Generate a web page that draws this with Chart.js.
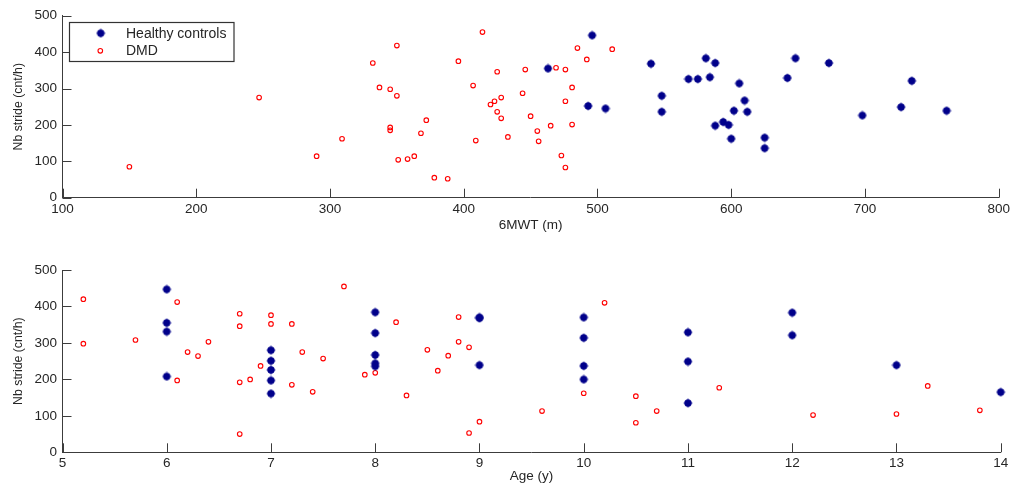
<!DOCTYPE html>
<html><head><meta charset="utf-8">
<script src="https://cdn.jsdelivr.net/npm/chart.js@4"></script>
<style>
html,body{margin:0;padding:0;background:#fff;width:1013px;height:486px;overflow:hidden}
.box{position:absolute;left:0;width:1013px;height:243px}
#b1{top:0}#b2{top:243px}
</style></head><body>
<div class="box" id="b1"><canvas id="c1"></canvas></div>
<div class="box" id="b2"><canvas id="c2"></canvas></div>
<script>
// ---- Data ----
const seriesNames = ['Healthy controls', 'DMD'];

// Top panel: Nb stride vs 6MWT
const walkHealthy = [463,496,493,506,540,548,548,568,575,581,588,584,606,610,602,612,594,588,598,600,625,625,642,648,673,698,727,735,761];
const strideHealthyTop = [355,446,252,245,368,280,236,326,326,383,370,331,314,267,239,236,208,198,200,162,165,136,329,383,370,226,249,321,239];
const walkDMD = [150,247,290,309,332,337,345,350,350,345,345,351,358,363,372,368,378,388,396,407,409,414,425,420,423,428,425,428,433,446,444,450,455,456,465,469,476,473,476,476,481,481,485,492,511];
const strideDMDTop = [85,275,114,162,370,303,298,418,280,193,185,104,106,114,213,177,55,52,375,308,157,455,346,256,265,275,236,218,167,352,287,224,183,155,198,357,352,116,83,265,303,201,411,380,408];

// Bottom panel: Nb stride vs Age
const ageHealthy = [6,6,6,6,7,7,7,7,7,8,8,8,8,8,9,9,9,10,10,10,10,11,11,11,12,12,13,14];
const strideHealthyBottom = [447,355,331,208,280,251,226,197,161,384,327,267,244,236,370,368,239,370,314,237,200,329,249,135,383,321,239,165];
const ageDMD = [5.2,5.2,5.7,6.1,6.1,6.2,6.3,6.4,6.7,6.7,6.7,6.7,6.8,6.9,7,7,7.2,7.2,7.3,7.4,7.5,7.7,7.9,8,8.2,8.3,8.5,8.6,8.7,8.8,8.8,8.9,8.9,9,9.6,10,10.2,10.5,10.5,10.7,11.3,12.2,13,13.3,13.8];
const strideDMDBottom = [420,298,308,412,197,275,264,303,380,346,192,50,200,237,376,352,352,185,275,166,257,455,213,218,357,156,281,224,265,371,303,288,53,84,113,162,410,154,81,113,177,102,105,182,115];

// Axis settings
const topX = {min:100, max:800, step:100, title:'6MWT (m)'};
const bottomX = {min:5, max:14, step:1, title:'Age (y)'};
const yAxis = {min:0, max:500, step:100, title:'Nb stride (cnt/h)'};

// ---- Styling ----
const NAVY = '#00008b';
const RED = 'rgb(255,0,0)';
const AXIS = '#3c3c3c';
const TEXT = '#262626';
const FONT = '"Liberation Sans", Arial, sans-serif';
Chart.defaults.font.family = FONT;
Chart.defaults.color = TEXT;

// filled star-like marker (MATLAB style)
function makeStar(){
  const c = document.createElement('canvas');
  c.width = 10; c.height = 10;
  const g = c.getContext('2d');
  g.fillStyle = NAVY; g.strokeStyle = NAVY;
  g.beginPath(); g.arc(5,5,3.7,0,Math.PI*2); g.fill();
  g.lineWidth = 0.8;
  g.beginPath();
  g.moveTo(5,0.5); g.lineTo(5,9.5);
  g.moveTo(0.5,5); g.lineTo(9.5,5);
  g.stroke();
  return c;
}
const star = makeStar();

function pts(xs, ys){ return xs.map((x,i)=>({x:x, y:ys[i]})); }

const inwardTicks = {
  id:'inwardTicks',
  afterDatasetsDraw(chart){
    const ctx = chart.ctx, a = chart.chartArea;
    const xs = chart.scales.x, ys = chart.scales.y;
    ctx.save();
    ctx.strokeStyle = AXIS; ctx.lineWidth = 1;
    ctx.beginPath();
    xs.ticks.forEach((t,i)=>{ const p = Math.round(xs.getPixelForTick(i))+0.5; ctx.moveTo(p,a.bottom); ctx.lineTo(p,a.bottom-9); });
    ys.ticks.forEach((t,i)=>{ const p = Math.round(ys.getPixelForTick(i))+0.5; ctx.moveTo(a.left,p); ctx.lineTo(a.left+9,p); });
    ctx.stroke();
    ctx.restore();
  }
};

const legendBox = {
  id:'legendBox',
  afterDraw(chart){
    const ctx = chart.ctx;
    ctx.save();
    ctx.fillStyle = '#fff';
    ctx.fillRect(69.5,22.5,164.5,39);
    ctx.strokeStyle = '#333'; ctx.lineWidth = 1.2;
    ctx.strokeRect(69.5,22.5,164.5,39);
    ctx.drawImage(star, 100.7-5, 33.2-5);
    ctx.strokeStyle = RED; ctx.lineWidth = 1.1;
    ctx.beginPath(); ctx.arc(100.3,50.8,2.3,0,Math.PI*2); ctx.stroke();
    ctx.fillStyle = TEXT;
    ctx.font = '14px ' + FONT;
    ctx.textBaseline = 'middle';
    ctx.fillText(seriesNames[0], 126, 33.7);
    ctx.fillText(seriesNames[1], 126, 50.9);
    ctx.restore();
  }
};

function makeChart(id, xcfg, hData, dData, o, withLegend){
  return new Chart(document.getElementById(id), {
    type:'scatter',
    data:{datasets:[
      {label:seriesNames[0], data:hData, clip:false, pointStyle:star, pointRadius:5, pointHoverRadius:5, backgroundColor:NAVY, borderColor:NAVY},
      {label:seriesNames[1], data:dData, clip:false, pointStyle:'circle', pointRadius:2.3, pointHoverRadius:2.3, borderWidth:1.1, backgroundColor:'rgba(0,0,0,0)', borderColor:RED}
    ]},
    options:{
      responsive:true, maintainAspectRatio:false, animation:false, devicePixelRatio:1,
      layout:{padding:{top:o.top, right:o.right, left:0, bottom:0}},
      plugins:{legend:{display:false}, tooltip:{enabled:false}},
      scales:{
        x:{type:'linear', min:xcfg.min, max:xcfg.max,
           ticks:{stepSize:xcfg.step, font:{size:13.5}, color:TEXT, padding:3, maxRotation:0},
           grid:{display:false, drawTicks:false},
           border:{display:true, color:AXIS, width:1},
           title:{display:true, text:xcfg.title, font:{size:13.5}, color:TEXT, padding:{top:0, bottom:o.xtitle}},
           afterFit(s){ s.height = o.xh; }},
        y:{type:'linear', min:yAxis.min, max:yAxis.max,
           ticks:{stepSize:yAxis.step, font:{size:13.5}, color:TEXT, padding:5.5},
           grid:{display:false, drawTicks:false},
           border:{display:true, color:AXIS, width:1},
           title:{display:true, text:yAxis.title, font:{size:12.3}, color:TEXT, padding:{top:11.6, bottom:0}},
           afterFit(s){ s.width = 62.5; }}
      }
    },
    plugins: withLegend ? [inwardTicks, legendBox] : [inwardTicks]
  });
}

makeChart('c1', topX, pts(walkHealthy, strideHealthyTop), pts(walkDMD, strideDMDTop),
  {top:15.7, right:12.3, xh:243-197.7, xtitle:10}, true);
makeChart('c2', bottomX, pts(ageHealthy, strideHealthyBottom), pts(ageDMD, strideDMDBottom),
  {top:27, right:12.3, xh:243-209.3, xtitle:1.5}, false);
</script>
</body></html>
